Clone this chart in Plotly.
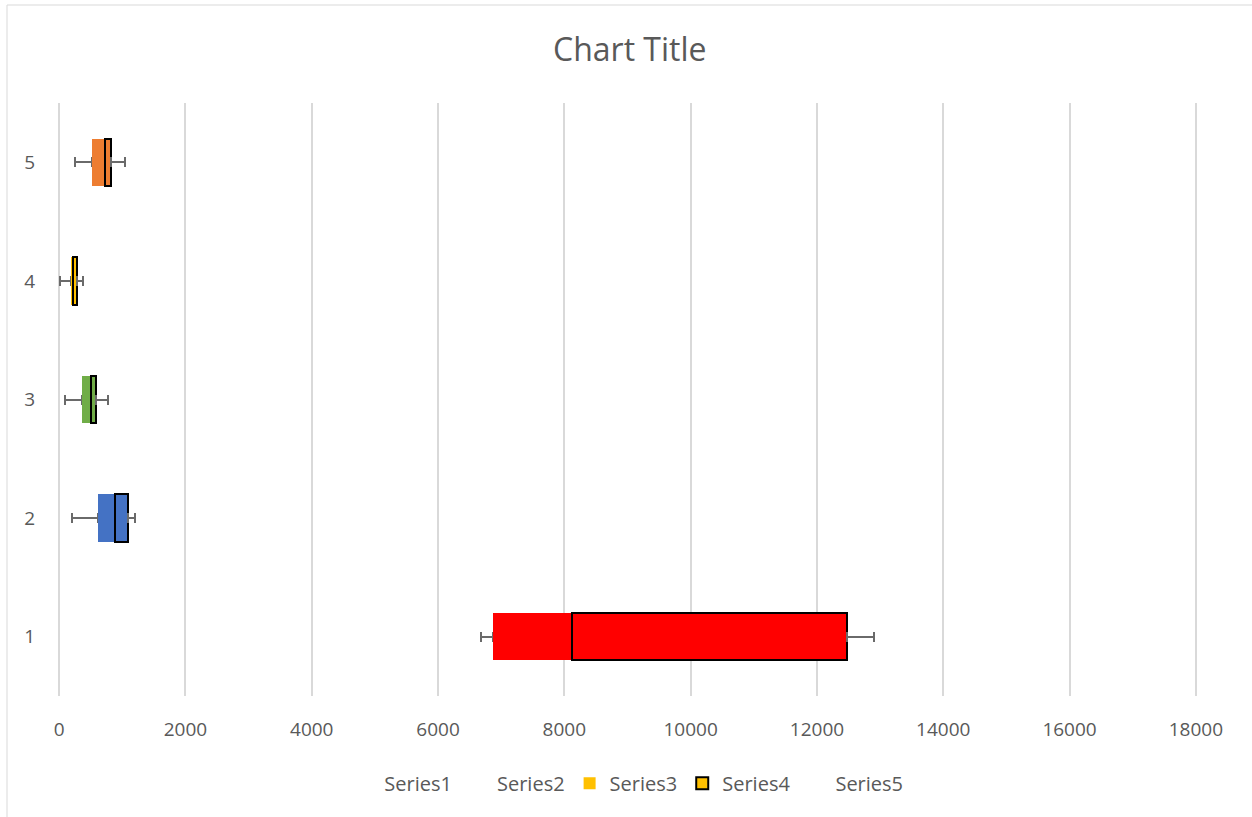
import plotly.graph_objects as go

categories = ["1", "2", "3", "4", "5"]
mins = [6680, 200, 85, 10, 258]
q1 = [6870, 622, 369, 195, 522]
medians = [8116, 891, 501, 227, 723]
q3 = [12474, 1087, 580, 290, 818]
maxs = [12902, 1203, 776, 380, 1040]
box_colors = ["#FF0000", "#4472C4", "#70AD47", "#FFC000", "#ED7D31"]
series_names = ["Series1", "Series2", "Series3", "Series4", "Series5"]
x_ticks = [0, 2000, 4000, 6000, 8000, 10000, 12000, 14000, 16000, 18000]

s1 = mins
s2 = [b - a for a, b in zip(mins, q1)]
s3 = [b - a for a, b in zip(q1, medians)]
s4 = [b - a for a, b in zip(medians, q3)]
s5 = [0, 0, 0, 0, 0]
lo_err = [b - a for a, b in zip(mins, q1)]
hi_err = [b - a for a, b in zip(q3, maxs)]
zeros = [0] * len(categories)

TXT = "#595959"
ERR = "#6A6A6A"
CLEAR = "rgba(0,0,0,0)"
fig = go.Figure()

fig.add_trace(go.Bar(y=categories, x=s1, orientation="h", name=series_names[0],
                     marker=dict(color=CLEAR, line=dict(width=0, color=CLEAR)),
                     showlegend=False, hoverinfo="skip"))
fig.add_trace(go.Bar(y=categories, x=s2, orientation="h", name=series_names[1],
                     marker=dict(color=CLEAR, line=dict(width=0, color=CLEAR)), showlegend=False,
                     error_x=dict(type="data", symmetric=False, array=zeros, arrayminus=lo_err,
                                  color=ERR, thickness=2, width=5)))
fig.add_trace(go.Bar(y=categories, x=s3, orientation="h", name=series_names[2],
                     marker=dict(color=box_colors, line=dict(width=0)), showlegend=False))
fig.add_trace(go.Bar(y=categories, x=s4, orientation="h", name=series_names[3],
                     marker=dict(color=box_colors, line=dict(color="#000000", width=2)), showlegend=False,
                     error_x=dict(type="data", symmetric=False, array=hi_err, arrayminus=zeros,
                                  color=ERR, thickness=2, width=5)))
fig.add_trace(go.Bar(y=categories, x=s5, orientation="h", name=series_names[4],
                     marker=dict(color=CLEAR, line=dict(width=0, color=CLEAR)), showlegend=False))

# legend entries
legend_fill = [CLEAR, CLEAR, "#FFC000", "#FFC000", CLEAR]
legend_line = [0, 0, 0, 2, 0]
for i, nm in enumerate(series_names):
    fig.add_trace(go.Bar(y=[None], x=[None], orientation="h", name=nm, legendrank=i + 1,
                         marker=dict(color=legend_fill[i],
                                     line=dict(color="#000000" if legend_line[i] else CLEAR,
                                               width=legend_line[i])),
                         showlegend=True, hoverinfo="skip"))

# plot area slightly wider than the tick span so the edge gridlines are drawn
L, R, T, B = 56, 53, 103, 121
plot_w = 1252 - L - R
plot_h = 817 - T - B

fig.update_layout(
    barmode="stack",
    bargap=0.6,
    width=1252, height=817,
    margin=dict(l=L, r=R, t=T, b=B),
    paper_bgcolor="white", plot_bgcolor="white",
    font=dict(family="Open Sans", color=TXT, size=19),
    title=dict(text="Chart Title", x=0.503, xanchor="center", y=1 - 50 / 817, yanchor="middle",
               yref="container", font=dict(size=32, color=TXT, family="Open Sans")),
    legend=dict(orientation="h", x=0.499, xanchor="center", y=-0.147, yanchor="middle",
                font=dict(size=20, color=TXT), traceorder="normal"),
    xaxis=dict(range=[-50, 18050], tickvals=x_ticks,
               showgrid=True, gridcolor="#D9D9D9", gridwidth=2,
               zeroline=False, showline=False, ticks="", tickformat="d", ticklabelstandoff=20,
               tickfont=dict(size=19, color=TXT)),
    yaxis=dict(type="category", categoryorder="array", categoryarray=categories,
               showgrid=False, zeroline=False, showline=False, ticks="", ticklabelstandoff=20,
               tickfont=dict(size=19, color=TXT)),
    shapes=[dict(type="rect", xref="paper", yref="paper",
                 x0=(7 - L) / plot_w, x1=1.2, y0=-0.5, y1=(817 - B - 5) / plot_h,
                 line=dict(color="#D9D9D9", width=1), fillcolor=CLEAR, layer="below")],
)

fig.write_html("out.html")
